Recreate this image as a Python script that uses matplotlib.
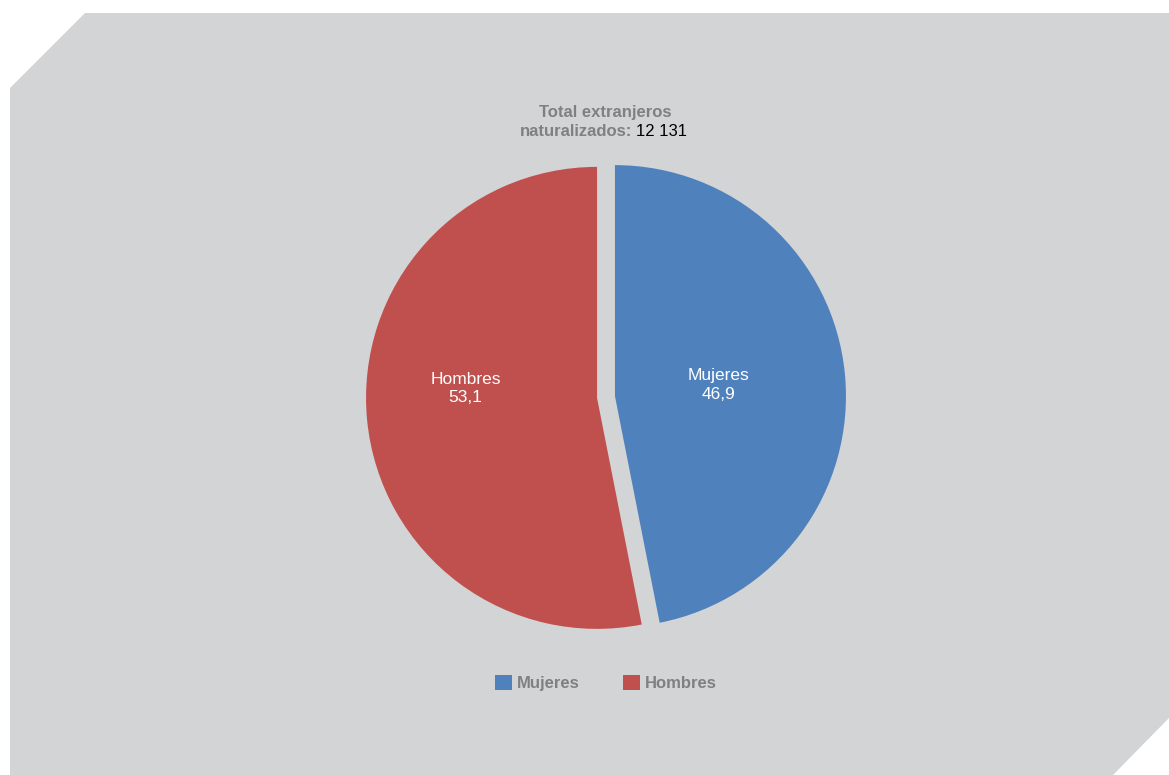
import matplotlib
matplotlib.use("Agg")
import numpy as np
import matplotlib.pyplot as plt
from matplotlib.patches import Polygon

# data
categories = ["Mujeres", "Hombres"]
shares = [46.9, 53.1]
colors = ["#4F81BD", "#C0504D"]
total_label = "12 131"

plt.rcParams['font.family'] = ['Liberation Sans Narrow', 'Liberation Sans', 'DejaVu Sans']

W, H = 1169, 775
fig = plt.figure(figsize=(W / 100, H / 100), dpi=100)
fig.patch.set_facecolor("white")

# grey panel with cut corners (pixel coords -> figure fraction)
panel = [(10, 88), (85, 13), (1169, 13), (1169, 718), (1113, 775), (10, 775)]
panel = [(x / W, 1 - y / H) for x, y in panel]
fig.patches.append(Polygon(panel, closed=True, transform=fig.transFigure,
                           facecolor="#D3D4D6", edgecolor="none", zorder=-5))

ax = fig.add_axes([0, 0, 1, 1])
ax.set_zorder(2)
ax.patch.set_visible(False)

cx, cy, r = 606, H - 397, 231
# explode is in data units (pixels here)
wedges, _ = ax.pie(shares, colors=colors, startangle=90, counterclock=False,
                   explode=[9, 9], center=(cx, cy), radius=r,
                   frame=True, wedgeprops=dict(linewidth=0))
ax.set_xlim(0, W)
ax.set_ylim(0, H)
ax.set_aspect("equal")
ax.axis("off")

# slice labels: (angle in deg, distance as fraction of radius) from wedge centre
label_pos = [(6, 0.45), (176, 0.57)]
for w, name, val, (a, d) in zip(wedges, categories, shares, label_pos):
    ang = np.deg2rad(a)
    x = w.center[0] + d * r * np.cos(ang)
    y = w.center[1] + d * r * np.sin(ang)
    ax.text(x, y, "%s\n%s" % (name, ("%.1f" % val).replace(".", ",")),
            color="white", fontsize=12.5, ha="center", va="center", linespacing=1.3)

# title
grey = "#808080"
fig.text(605 / W, 1 - 112 / H, "Total extranjeros", color=grey, fontsize=12,
         fontweight="bold", ha="center", va="center")
fig.text(632 / W, 1 - 132 / H, "naturalizados:", color=grey, fontsize=12,
         fontweight="bold", ha="right", va="center")
fig.text(636 / W, 1 - 132 / H, total_label, color="black", fontsize=12,
         ha="left", va="center")

leg = fig.legend(wedges, categories, loc="center", ncol=2, frameon=False,
                 bbox_to_anchor=(606 / W, 1 - 683 / H), handlelength=1.0,
                 handleheight=1.0, handletextpad=0.3, columnspacing=2.6,
                 prop=dict(size=12, weight="bold"))
for t in leg.get_texts():
    t.set_color(grey)

fig.savefig("out.png", dpi=100, facecolor=fig.get_facecolor())
